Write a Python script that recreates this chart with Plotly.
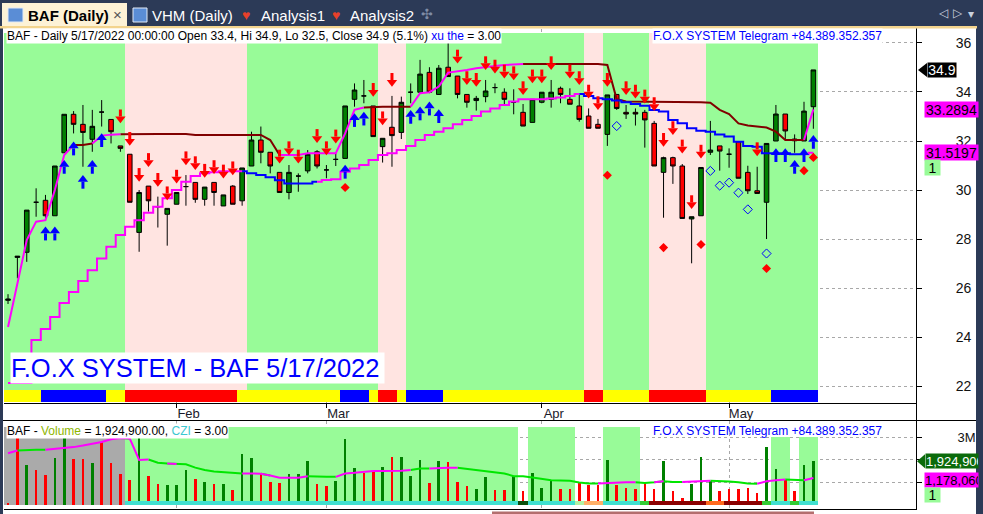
import plotly.graph_objects as go

W, H = 983, 514

# ---------------- price bars, BAF daily (Jan 4 .. May 17 2022) ----------------
opens = [25.5, 27.25, 27.46, 29.5, 29.58, 28.95, 31.52, 33.09, 32.68, 32.07,
         33.18, 32.88, 31.8, 31.46, 28.27, 30.16, 29.32, 29.01, 29.42, 30.14,
         30.31, 29.62, 30.31, 29.35, 30.16, 29.56, 30.98, 32.04, 31.54, 30.72,
         29.9, 30.57, 30.78, 31.56, 30.82, 31.25, 31.29, 33.7, 33.84, 33.43,
         31.77, 32.56, 32.35, 33.99, 33.99, 34.8, 33.9, 35.01, 34.65, 33.9,
         33.65, 33.81, 34.18, 33.99, 33.58, 33.17, 32.76, 33.58, 33.7, 34.15,
         33.7, 33.43, 33.02, 32.68, 32.27, 33.9, 33.17, 33.17, 33.17, 32.72,
         30.72, 31.32, 30.98, 28.82, 28.95, 31.54, 31.8, 31.46, 31.97, 30.72,
         29.97, 29.5, 32.0, 33.1, 32.08, 32.0, 33.4]
highs = [25.75, 27.3, 29.18, 30.07, 29.8, 30.98, 33.09, 33.22, 33.47, 33.27,
         33.67, 32.88, 31.8, 31.46, 30.0, 30.16, 29.73, 29.25, 29.9, 30.61,
         30.31, 30.12, 30.31, 29.8, 30.2, 30.9, 32.38, 32.59, 31.54, 30.72,
         31.02, 30.68, 31.63, 31.63, 31.02, 31.5, 33.43, 34.35, 34.49, 33.43,
         32.11, 33.84, 33.81, 34.35, 35.31, 35.01, 35.1, 36.01, 34.65, 33.9,
         33.84, 34.49, 34.35, 34.15, 34.11, 33.51, 33.7, 33.99, 34.49, 34.22,
         34.15, 33.88, 33.33, 32.9, 33.88, 33.9, 33.47, 33.33, 33.27, 32.82,
         31.36, 31.36, 31.06, 28.91, 30.92, 32.82, 31.8, 31.7, 31.97, 30.99,
         30.95, 31.9, 33.47, 33.1, 32.27, 33.6, 34.9]
lows = [25.35, 26.4, 27.07, 28.91, 28.84, 28.95, 31.52, 32.31, 30.95, 31.56,
        32.59, 31.9, 31.56, 29.5, 27.48, 29.12, 28.47, 27.73, 29.42, 29.36,
        29.48, 29.36, 29.36, 29.35, 29.42, 29.36, 30.98, 31.09, 30.68, 29.9,
        29.62, 29.93, 30.68, 30.88, 30.48, 30.98, 31.29, 33.4, 33.54, 32.18,
        31.12, 30.95, 32.08, 33.54, 33.95, 33.95, 33.88, 34.63, 33.74, 33.36,
        33.24, 33.58, 33.95, 33.43, 33.09, 32.61, 32.76, 33.54, 33.36, 33.54,
        33.5, 32.79, 32.52, 32.52, 31.8, 33.27, 32.9, 32.63, 31.73, 30.98,
        28.87, 30.25, 28.84, 27.01, 28.95, 31.43, 30.79, 30.91, 30.48, 29.84,
        29.86, 28.0, 32.0, 32.04, 31.52, 32.0, 32.5]
closes = [25.55, 27.3, 29.18, 29.5, 28.95, 30.98, 33.09, 32.68, 32.35, 32.6,
          33.18, 32.38, 31.7, 29.5, 29.9, 29.56, 29.32, 29.25, 29.9, 30.14,
          29.62, 30.12, 29.9, 29.8, 29.42, 30.9, 32.04, 31.54, 30.98, 29.9,
          30.72, 30.57, 31.46, 30.98, 30.82, 31.25, 33.43, 34.08, 33.84, 32.18,
          32.11, 32.22, 33.58, 33.99, 34.73, 33.99, 34.97, 34.63, 33.9, 33.58,
          33.74, 34.04, 34.18, 33.7, 33.58, 32.61, 33.7, 33.99, 33.99, 33.9,
          33.5, 32.88, 32.52, 32.52, 33.88, 33.33, 33.1, 33.1, 32.86, 30.98,
          31.32, 30.98, 28.84, 28.91, 30.92, 31.63, 31.59, 31.46, 30.48, 29.97,
          29.86, 31.9, 33.1, 32.41, 32.01, 33.22, 34.9]

# trailing stop lines
upper_line = [24.41, 26.2, 27.96, 28.71, 28.77, 30.0, 31.43, 31.84, 31.84, 31.9,
              32.22, 32.26, 32.28, 32.29, 32.29, 32.29, 32.29, 32.29, 32.29, 32.29,
              32.25, 32.25, 32.25, 32.25, 32.25, 32.25, 32.25, 32.25, 32.04, 31.43,
              31.43, 31.43, 31.5, 31.5, 31.5, 31.5, 32.31, 33.27, 33.37, 33.4,
              33.4, 33.4, 33.4, 33.4, 33.95, 33.99, 34.22, 34.79, 34.83, 34.9,
              34.97, 35.03, 35.06, 35.1, 35.13, 35.14, 35.14, 35.14, 35.14, 35.14,
              35.14, 35.14, 35.14, 35.14, 35.1, 33.7, 33.61, 33.61, 33.61, 33.61,
              33.61, 33.58, 33.58, 33.58, 33.58, 33.56, 33.27, 33.1, 32.72, 32.63,
              32.6, 32.55, 32.38, 32.04, 32.04, 32.04, 33.2894]
lower_line = [22.13, 22.13, 22.13, 23.88, 24.33, 24.82, 25.39, 25.84, 26.29, 26.73,
              27.21, 27.69, 28.16, 28.5, 28.77, 29.07, 29.32, 29.66, 30.0, 30.34,
              30.57, 30.68, 30.72, 30.77, 30.77, 30.77, 30.68, 30.61, 30.52, 30.4,
              30.27, 30.27, 30.27, 30.34, 30.41, 30.44, 30.75, 30.88, 31.02, 31.22,
              31.43, 31.5, 31.63, 31.8, 32.04, 32.25, 32.38, 32.52, 32.68, 32.86,
              33.02, 33.2, 33.33, 33.47, 33.61, 33.7, 33.7, 33.7, 33.73, 33.78,
              33.84, 33.92, 33.84, 33.74, 33.7, 33.65, 33.58, 33.51, 33.44, 33.27,
              33.2, 32.86, 32.72, 32.52, 32.42, 32.38, 32.27, 32.18, 31.97, 31.8,
              31.77, 31.5, 31.5, 31.5, 31.46, 31.46, 31.5197]
# 1 = rising (magenta) segment, 0 = holding (maroon / blue)
upper_runs = [(1, 8), (0, 2), (1, 3), (0, 17), (1, 9), (0, 5), (1, 12), (0, 30), (1, 1)]
lower_runs = [(1, 26), (0, 8), (1, 28), (0, 24), (1, 1)]

# volume in millions of shares
volume_m = [0.03, 3.0, 1.76, 1.53, 1.3, 2.06, 3.0, 2.03, 2.03, 1.86,
            2.8, 1.86, 1.35, 1.08, 3.0, 1.26, 0.9, 0.86, 0.86, 1.53,
            1.13, 0.98, 0.9, 0.93, 0.66, 2.25, 2.06, 1.41, 1.0, 0.96,
            1.35, 1.35, 1.93, 0.9, 0.81, 1.05, 2.93, 1.63, 1.38, 1.5,
            1.68, 2.13, 2.13, 1.26, 1.98, 0.96, 1.93, 1.9, 1.0, 0.81,
            0.7, 1.23, 0.63, 0.66, 1.26, 0.6, 1.38, 0.75, 1.05, 0.7,
            0.7, 0.96, 0.86, 0.86, 1.98, 0.86, 0.75, 0.7, 0.96, 0.7,
            1.93, 0.59, 0.3, 0.9, 2.1, 1.03, 0.6, 0.7, 0.7, 0.75,
            0.53, 2.55, 1.58, 1.11, 0.59, 1.76, 1.9249]
volume_dir = ("rrgrrggrrg" "rrrrgrrggg" "rgrgrggrrr" "gggrrgggrr" "grgggrgrrr"
              "ggrrgrgggr" "rrrrgrrrrr" "grrgggrrrr" "rggrrgg")
volume_ma_m = [2.28, 2.4, 2.43, 2.43, 2.43, 2.46, 2.5, 2.55, 2.62, 2.7,
               2.78, 2.9, 2.95, 2.93, 1.98, 2.0, 1.86, 1.82, 1.8, 1.79,
               1.64, 1.53, 1.47, 1.44, 1.41, 1.38, 1.38, 1.37, 1.29, 1.19,
               1.19, 1.19, 1.26, 1.23, 1.23, 1.23, 1.38, 1.41, 1.46, 1.49,
               1.49, 1.49, 1.5, 1.53, 1.6, 1.6, 1.63, 1.63, 1.63, 1.58,
               1.53, 1.5, 1.44, 1.38, 1.26, 1.25, 1.2, 1.14, 1.08, 1.07,
               1.05, 0.98, 0.93, 0.93, 0.96, 0.98, 0.99, 0.99, 0.96, 0.99,
               1.03, 1.0, 1.0, 1.03, 1.06, 1.06, 1.05, 1.02, 0.99, 0.93,
               0.92, 1.03, 1.08, 1.11, 1.08, 1.08, 1.17806]
vma_runs = [(1, 2), (0, 3), (1, 8), (0, 1), (1, 2), (0, 2), (1, 1), (0, 7), (1, 2),
            (0, 1), (1, 4), (0, 3), (1, 8), (0, 2), (1, 3), (0, 15), (1, 4), (0, 2),
            (1, 1), (0, 2), (1, 3), (0, 5), (1, 3), (0, 2), (1, 1)]

# regime colouring
zone_runs = [('g', 13), ('p', 13), ('g', 14), ('p', 3), ('g', 19), ('p', 2),
             ('g', 5), ('p', 6), ('g', 12)]
signal_runs = [('y', 4), ('b', 7), ('y', 2), ('r', 12), ('y', 11), ('b', 3), ('y', 1),
               ('r', 2), ('y', 1), ('b', 4), ('y', 15), ('r', 2), ('y', 5), ('r', 6),
               ('y', 7), ('b', 5)]
vol_zone_runs = [('k', 13), ('g', 42), ('-', 1), ('g', 5), ('-', 3), ('g', 4),
                 ('-', 14), ('h', 2), ('-', 1), ('h', 2)]
czi_runs = [('-', 13), ('c', 42), ('d', 1), ('c', 5), ('l', 1), ('o', 2), ('c', 4),
            ('L', 1), ('m', 6), ('O', 2), ('m', 4), ('L', 1), ('c', 2), ('L', 1), ('c', 2)]

# signals
sell_x = [12, 13, 14, 15, 16, 17, 18, 19, 20, 21, 22, 23, 24, 29, 30, 31, 33, 34,
          35, 39, 40, 41, 48, 49, 50, 51, 52, 53, 54, 55, 56, 57, 58, 60, 61, 62,
          63, 64, 66, 67, 68, 69, 70, 71, 72, 73, 74, 80]
sell_y = [33.0, 32.08, 30.61, 31.22, 30.41, 29.86, 30.54, 31.29, 31.09, 30.78, 30.93,
          30.75, 30.88, 31.36, 31.7, 31.36, 32.2, 31.7,
          32.18, 34.08, 32.92, 34.49, 35.44, 34.56, 34.49, 35.17, 35.03, 34.83, 34.76,
          34.15, 34.63, 34.63, 35.17, 34.83, 34.56, 34.01, 33.54, 34.49, 34.15, 34.01,
          33.81, 33.5, 32.04, 32.52, 31.77, 29.5, 31.56, 31.66]
buy_x = [4, 5, 6, 7, 8, 9, 10, 36, 37, 38, 43, 44, 45, 46, 82, 83, 84, 85, 86]
buy_y = [28.23, 28.23, 30.95, 31.7, 30.34, 30.95, 32.04, 30.75, 32.86, 32.92, 32.99,
         33.13, 33.33, 33.02, 31.43, 31.43, 30.95, 31.43, 31.97]
dot_x = [36, 64, 70, 74, 81, 85, 86]
dot_y = [30.1, 30.6, 27.65, 27.78, 26.8, 30.79, 31.33]
ring_x = [65, 75, 76, 77, 78, 79, 81]
ring_y = [32.61, 30.78, 30.18, 30.3, 29.89, 29.21, 27.41]

month_idx = [18, 34, 57, 77]
month_lbl = ['Feb', 'Mar', 'Apr', 'May']
price_ticks = [22, 24, 26, 28, 30, 32, 34, 36]

# ---------------- helpers ----------------
ZONE_COL = {'g': '#98FB98', 'p': '#FFE4E1'}
SIGNAL_COL = {'y': '#FFFF00', 'b': '#0000FF', 'r': '#FF0000'}
VZONE_COL = {'k': '#AAAAAA', 'g': '#98FB98', 'h': '#98FB98', '-': 'rgba(0,0,0,0)'}
CZI_COL = {'-': 'rgba(0,0,0,0)', 'c': '#40E0D0', 'd': '#0B4F0B', 'l': '#B2F2A4',
           'o': '#FFB068', 'O': '#FF6A1E', 'm': '#8B0000', 'L': '#33CC33'}
PX = 1 / 24.5  # price units per screen pixel


def expand(runs):
    out = []
    for code, n in runs:
        out += [code] * n
    return out


def seg_split(vals, flags, want):
    n = len(vals)
    out = []
    for i in range(n):
        keep = (i > 0 and flags[i] == want) or (i + 1 < n and flags[i + 1] == want)
        out.append(vals[i] if keep else None)
    return out


def px_x(x):
    return x / W


def px_y(y):
    return 1 - y / H


idx = list(range(len(closes)))
n = len(idx)

fig = go.Figure()

# ---------- price pane ----------
zones = expand(zone_runs)
fig.add_trace(go.Bar(x=idx, y=[36.41 - 21.84] * n, base=21.84, width=1,
                     marker=dict(color=[ZONE_COL[z] for z in zones], line=dict(width=0)),
                     hoverinfo='skip', xaxis='x', yaxis='y'))
signals = expand(signal_runs)
fig.add_trace(go.Bar(x=idx, y=[0.49] * n, base=21.35, width=1,
                     marker=dict(color=[SIGNAL_COL[s] for s in signals], line=dict(width=0)),
                     hoverinfo='skip', xaxis='x', yaxis='y'))

fig.add_trace(go.Candlestick(x=idx, open=opens, high=highs, low=lows, close=closes,
                             increasing=dict(fillcolor='#008000', line=dict(color='black', width=1)),
                             decreasing=dict(fillcolor='#FF0000', line=dict(color='black', width=1)),
                             whiskerwidth=0, hoverinfo='skip', xaxis='x', yaxis='y'))

up_flags = expand(upper_runs)
lo_flags = expand(lower_runs)
for vals, flags, want, color, shape in [
        (upper_line, up_flags, 0, '#800000', 'linear'),
        (upper_line, up_flags, 1, '#FF00FF', 'linear'),
        (lower_line, lo_flags, 0, '#0000FF', 'hvh'),
        (lower_line, lo_flags, 1, '#FF00FF', 'hvh')]:
    fig.add_trace(go.Scatter(x=idx, y=seg_split(vals, flags, want), mode='lines',
                             line=dict(color=color, width=2, shape=shape),
                             connectgaps=False, hoverinfo='skip', xaxis='x', yaxis='y'))

# sell arrows: shaft above, head below
fig.add_trace(go.Scatter(x=sell_x, y=[v + 3.5 * PX for v in sell_y], mode='markers',
                         marker=dict(symbol='line-ns', size=5, line=dict(color='#FF0000', width=3)),
                         hoverinfo='skip', xaxis='x', yaxis='y'))
fig.add_trace(go.Scatter(x=sell_x, y=[v - 2.3 * PX for v in sell_y], mode='markers',
                         marker=dict(symbol='triangle-down', size=9, color='#FF0000', line=dict(width=0)),
                         hoverinfo='skip', xaxis='x', yaxis='y'))
# buy arrows
fig.add_trace(go.Scatter(x=buy_x, y=[v - 3.5 * PX for v in buy_y], mode='markers',
                         marker=dict(symbol='line-ns', size=5, line=dict(color='#0000FF', width=3)),
                         hoverinfo='skip', xaxis='x', yaxis='y'))
fig.add_trace(go.Scatter(x=buy_x, y=[v + 2.3 * PX for v in buy_y], mode='markers',
                         marker=dict(symbol='triangle-up', size=9, color='#0000FF', line=dict(width=0)),
                         hoverinfo='skip', xaxis='x', yaxis='y'))
fig.add_trace(go.Scatter(x=dot_x, y=dot_y, mode='markers',
                         marker=dict(symbol='diamond', size=7, color='#FF0000', line=dict(width=0)),
                         hoverinfo='skip', xaxis='x', yaxis='y'))
fig.add_trace(go.Scatter(x=ring_x, y=ring_y, mode='markers',
                         marker=dict(symbol='diamond-open', size=7, color='#0000FF', line=dict(width=1)),
                         hoverinfo='skip', xaxis='x', yaxis='y'))

# ---------- volume pane ----------
vz = expand(vol_zone_runs)
vz_top = {'k': 3.45, 'g': 3.45, 'h': 3.0, '-': 0}
fig.add_trace(go.Bar(x=idx, y=[vz_top[z] for z in vz], base=0, width=1,
                     marker=dict(color=[VZONE_COL[z] for z in vz], line=dict(width=0)),
                     hoverinfo='skip', xaxis='x2', yaxis='y2'))
fig.add_trace(go.Bar(x=idx, y=volume_m, base=0, width=0.28,
                     marker=dict(color=['#008000' if d == 'g' else '#FF0000' for d in volume_dir],
                                 line=dict(width=0)),
                     hoverinfo='skip', xaxis='x2', yaxis='y2'))
czi = expand(czi_runs)
fig.add_trace(go.Bar(x=idx, y=[0.18] * n, base=-0.02, width=1,
                     marker=dict(color=[CZI_COL[c] for c in czi], line=dict(width=0)),
                     hoverinfo='skip', xaxis='x2', yaxis='y2'))
vma_flags = expand(vma_runs)
for want, color in [(0, '#00E600'), (1, '#FF00FF')]:
    fig.add_trace(go.Scatter(x=idx, y=seg_split(volume_ma_m, vma_flags, want), mode='lines',
                             line=dict(color=color, width=2), connectgaps=False,
                             hoverinfo='skip', xaxis='x2', yaxis='y2'))

# ---------- axes ----------
x_dom = [px_x(4), px_x(916)]
x_rng = [-0.43, 96.96]
grid = dict(showgrid=True, gridcolor='#A8A8A8', griddash='dot', gridwidth=1, zeroline=False)
fig.update_layout(
    xaxis=dict(domain=x_dom, range=x_rng, anchor='y', tickvals=month_idx, ticktext=month_lbl,
               ticks='outside', ticklen=4, tickcolor='black', showline=True, linecolor='black',
               tickfont=dict(size=13, color='#1a1a2a'), ticklabelshift=12, ticklabelstandoff=-6,
               rangeslider=dict(visible=False), fixedrange=True, **grid),
    xaxis2=dict(domain=x_dom, range=x_rng, anchor='y2', matches='x', tickvals=month_idx,
                showticklabels=False, ticks='', showline=True, linecolor='black', **grid),
    yaxis=dict(domain=[px_y(403), px_y(29)], range=[21.31, 36.57], side='right', anchor='x',
               tickvals=price_ticks, ticks='outside', ticklen=5, tickcolor='black',
               showline=True, linecolor='black', tickfont=dict(size=14, color='#111'),
               ticklabelstandoff=31, **grid),
    yaxis2=dict(domain=[px_y(509), px_y(421)], range=[-0.2, 3.711], side='right', anchor='x2',
                tickvals=[1, 2, 3], ticktext=['', '', '3M'], ticks='outside', ticklen=5,
                tickcolor='black', showline=True, linecolor='black',
                tickfont=dict(size=13, color='#111'), ticklabelstandoff=33, **grid),
)

# ---------- frame & decoration ----------
shapes = [
    dict(type='rect', xref='paper', yref='paper', x0=px_x(3), x1=px_x(976), y0=px_y(514), y1=px_y(27),
         fillcolor='white', line=dict(width=0), layer='below'),
    dict(type='rect', xref='paper', yref='paper', x0=px_x(2), x1=px_x(127), y0=px_y(27), y1=px_y(3),
         fillcolor='#FDF2D6', line=dict(width=0), layer='below'),
    dict(type='rect', xref='paper', yref='paper', x0=px_x(0), x1=px_x(977), y0=px_y(28.5), y1=px_y(26),
         fillcolor='#F3D48E', line=dict(width=0), layer='below'),
    dict(type='line', xref='paper', yref='paper', x0=px_x(916.5), x1=px_x(916.5), y0=px_y(510), y1=px_y(28.5),
         line=dict(color='black', width=1)),
    dict(type='line', xref='paper', yref='paper', x0=px_x(3), x1=px_x(976), y0=px_y(420.5), y1=px_y(420.5),
         line=dict(color='black', width=1)),
    dict(type='rect', xref='paper', yref='paper', x0=px_x(492), x1=px_x(814), y0=px_y(514), y1=px_y(511.5),
         fillcolor='#B46E6E', line=dict(width=0)),
    # tab icons
    dict(type='rect', xref='paper', yref='paper', x0=px_x(8), x1=px_x(23), y0=px_y(22), y1=px_y(8),
         fillcolor='#5A8DD6', line=dict(color='#E2EAF6', width=1)),
    dict(type='rect', xref='paper', yref='paper', x0=px_x(133), x1=px_x(147), y0=px_y(22), y1=px_y(8),
         fillcolor='#5A8DD6', line=dict(color='#E2EAF6', width=1)),
    # value label pointers
    dict(type='path', xref='paper', yref='y',
         path='M {:.5f},{} L {:.5f},{} L {:.5f},{} Z'.format(px_x(918), closes[-1], px_x(927), closes[-1] + 7 * PX,
                                                              px_x(927), closes[-1] - 7 * PX),
         fillcolor='black', line=dict(width=0)),
    dict(type='path', xref='paper', yref='y2',
         path='M {:.5f},{} L {:.5f},{} L {:.5f},{} Z'.format(px_x(917), volume_m[-1], px_x(925),
                                                              volume_m[-1] + 7 / 22.5, px_x(925),
                                                              volume_m[-1] - 7 / 22.5),
         fillcolor='#0B6B0B', line=dict(width=0)),
]


def ann(text, x, y, size=12, color='black', bg=None, yref='paper', w=None, h=None,
        xanchor='left', align='left'):
    d = dict(text=text, x=px_x(x), xref='paper', y=px_y(y) if yref == 'paper' else y, yref=yref,
             xanchor=xanchor, yanchor='middle', showarrow=False, borderpad=0, align=align,
             font=dict(size=size, color=color))
    if bg:
        d['bgcolor'] = bg
    if w:
        d['width'] = w
    if h:
        d['height'] = h
    return d


annotations = [
    # tabs
    ann('<b>BAF (Daily)</b>', 27, 15, size=15),
    ann('×', 112, 14, size=15, color='#555'),
    ann('VHM (Daily)', 151, 15, size=15, color='white'),
    ann('♥', 241, 15, size=14, color='#E8402A'),
    ann('Analysis1', 260, 15, size=15, color='white'),
    ann('♥', 331, 15, size=14, color='#E8402A'),
    ann('Analysis2', 349, 15, size=15, color='white'),
    ann('✣', 427, 14, size=14, color='#7F8CA6', xanchor='center'),
    ann('◁', 944, 13, size=12, color='#C9D1DE', xanchor='center'),
    ann('▷', 958, 13, size=12, color='#C9D1DE', xanchor='center'),
    ann('▾', 971, 14, size=12, color='#C9D1DE', xanchor='center'),
    # price pane titles
    ann('BAF - Daily 5/17/2022 00:00:00 Open 33.4, Hi 34.9, Lo 32.5, Close 34.9 (5.1%) '
        '<span style="color:#0000FF">xu the</span> = 3.00', 6, 36, bg='white'),
    ann('F.O.X SYSTEM Telegram +84.389.352.357', 652, 36, color='#0000FF', bg='white'),
    ann('F.O.X SYSTEM - BAF 5/17/2022', 10, 368, size=25.5, color='#0000FF', bg='white',
        w=373, h=30),
    # volume pane titles
    ann('BAF - <span style="color:#8DB600">Volume</span> = 1,924,900.00, '
        '<span style="color:#3CC8D0">CZI</span> = 3.00', 6, 430.5, bg='white'),
    ann('F.O.X SYSTEM Telegram +84.389.352.357', 652, 430.5, color='#0000FF'),
    # right-hand value labels
    ann('34.9', 927, closes[-1], size=14, color='white', bg='black', yref='y', w=28, h=14,
        align='center'),
    ann(f'{upper_line[-1]:.4f}', 924, upper_line[-1], size=14, bg='#FF00FF', yref='y', w=53, h=15,
        align='center'),
    ann(f'{lower_line[-1]:.4f}', 924, lower_line[-1], size=14, bg='#FF00FF', yref='y', w=53, h=15,
        align='center'),
    ann('1', 924, 167.5, size=14, bg='#98FB98', w=15, h=15, align='center'),
    ann(f'{volume_m[-1] * 1e6:,.0f}', 925, volume_m[-1], size=13, color='white', bg='#0B6B0B',
        yref='y2', w=52, h=14),
    ann(f'{volume_ma_m[-1] * 1e6:,.0f}', 924, 480, size=13, bg='#FF00FF', w=53, h=14),
    ann('1', 924, 495, size=14, bg='#98FB98', w=15, h=14, align='center'),
]

fig.update_layout(
    width=W, height=H, margin=dict(l=0, r=0, t=0, b=0),
    paper_bgcolor='#2C3A57', plot_bgcolor='white',
    font=dict(family='Liberation Sans, Arial, sans-serif', color='black'),
    barmode='overlay', bargap=0, showlegend=False, hovermode=False,
    shapes=shapes, annotations=annotations,
)

# the page's default body margin would push the figure off by 8px
fig.write_html("out.html", config={'displayModeBar': False},
               post_script="document.body.style.margin='0';document.body.style.overflow='hidden';")
